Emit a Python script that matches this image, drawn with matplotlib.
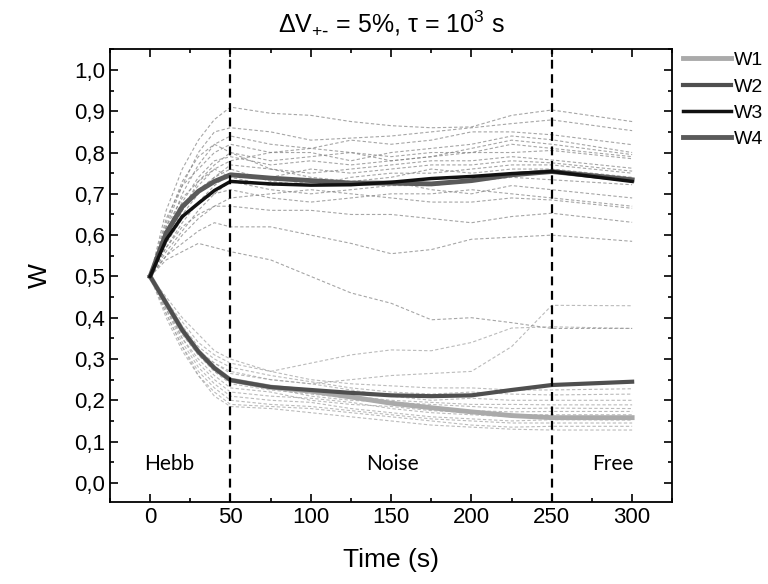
import matplotlib
matplotlib.use("Agg")
import matplotlib.pyplot as plt
from matplotlib.ticker import MultipleLocator, FuncFormatter

plt.rcParams['font.family'] = ['Liberation Sans', 'DejaVu Sans']
plt.rcParams['mathtext.default'] = 'regular'

# time grid of the sampled points (s)
t = [0, 10, 20, 30, 40, 50, 75, 100, 125, 150, 175, 200, 225, 250, 300]

# mean weights
w1 = [0.50, 0.435, 0.370, 0.318, 0.278, 0.249, 0.232, 0.222, 0.208, 0.193, 0.182, 0.172, 0.163, 0.158, 0.158]
w2 = [0.50, 0.435, 0.370, 0.318, 0.278, 0.249, 0.232, 0.225, 0.218, 0.212, 0.210, 0.212, 0.225, 0.237, 0.245]
w3 = [0.50, 0.589, 0.645, 0.677, 0.708, 0.730, 0.724, 0.721, 0.722, 0.728, 0.737, 0.742, 0.749, 0.754, 0.730]
w4 = [0.50, 0.605, 0.669, 0.706, 0.730, 0.746, 0.738, 0.732, 0.726, 0.726, 0.724, 0.732, 0.746, 0.754, 0.734]

# single trials, potentiated synapses
upper_trials = [
    [0.50, 0.66, 0.76, 0.83, 0.88, 0.91, 0.895, 0.89, 0.875, 0.865, 0.86, 0.862, 0.89, 0.903, 0.875],
    [0.50, 0.62, 0.72, 0.80, 0.85, 0.86, 0.85, 0.83, 0.835, 0.84, 0.85, 0.86, 0.87, 0.879, 0.853],
    [0.50, 0.60, 0.70, 0.77, 0.82, 0.84, 0.82, 0.81, 0.83, 0.82, 0.83, 0.85, 0.85, 0.843, 0.819],
    [0.50, 0.64, 0.72, 0.76, 0.80, 0.82, 0.80, 0.80, 0.78, 0.80, 0.81, 0.82, 0.84, 0.831, 0.80],
    [0.50, 0.58, 0.66, 0.73, 0.77, 0.80, 0.78, 0.79, 0.80, 0.79, 0.80, 0.80, 0.82, 0.81, 0.79],
    [0.50, 0.61, 0.68, 0.74, 0.78, 0.79, 0.77, 0.78, 0.77, 0.78, 0.79, 0.80, 0.80, 0.805, 0.785],
    [0.50, 0.59, 0.65, 0.70, 0.74, 0.77, 0.76, 0.75, 0.76, 0.77, 0.78, 0.78, 0.79, 0.782, 0.762],
    [0.50, 0.57, 0.63, 0.68, 0.72, 0.75, 0.74, 0.76, 0.75, 0.76, 0.77, 0.77, 0.78, 0.775, 0.755],
    [0.50, 0.60, 0.66, 0.71, 0.74, 0.76, 0.73, 0.72, 0.74, 0.75, 0.75, 0.76, 0.77, 0.77, 0.75],
    [0.50, 0.56, 0.61, 0.66, 0.70, 0.73, 0.71, 0.70, 0.71, 0.72, 0.72, 0.73, 0.74, 0.734, 0.722],
    [0.50, 0.58, 0.64, 0.68, 0.70, 0.71, 0.69, 0.68, 0.69, 0.70, 0.70, 0.71, 0.70, 0.69, 0.67],
    [0.50, 0.55, 0.60, 0.64, 0.67, 0.69, 0.70, 0.71, 0.70, 0.69, 0.68, 0.68, 0.69, 0.685, 0.665],
    [0.50, 0.57, 0.62, 0.65, 0.67, 0.67, 0.66, 0.66, 0.65, 0.65, 0.64, 0.63, 0.645, 0.653, 0.631],
    [0.50, 0.55, 0.58, 0.61, 0.63, 0.62, 0.62, 0.60, 0.58, 0.555, 0.565, 0.59, 0.595, 0.60, 0.585],
    [0.50, 0.54, 0.56, 0.58, 0.57, 0.56, 0.54, 0.50, 0.46, 0.435, 0.395, 0.40, 0.388, 0.374, 0.374],
    [0.50, 0.63, 0.73, 0.79, 0.82, 0.80, 0.76, 0.74, 0.73, 0.74, 0.76, 0.75, 0.76, 0.76, 0.74],
    [0.50, 0.59, 0.67, 0.72, 0.76, 0.78, 0.80, 0.81, 0.80, 0.78, 0.79, 0.81, 0.83, 0.82, 0.795],
    [0.50, 0.62, 0.69, 0.73, 0.76, 0.74, 0.72, 0.73, 0.72, 0.73, 0.71, 0.70, 0.72, 0.71, 0.69],
]

# single trials, depressed synapses
lower_trials = [
    [0.50, 0.44, 0.39, 0.34, 0.31, 0.29, 0.27, 0.29, 0.31, 0.322, 0.32, 0.34, 0.375, 0.378, 0.374],
    [0.50, 0.43, 0.37, 0.32, 0.29, 0.27, 0.25, 0.24, 0.25, 0.26, 0.265, 0.27, 0.33, 0.43, 0.429],
    [0.50, 0.45, 0.40, 0.36, 0.32, 0.30, 0.27, 0.25, 0.24, 0.235, 0.23, 0.23, 0.225, 0.225, 0.228],
    [0.50, 0.44, 0.38, 0.33, 0.30, 0.28, 0.26, 0.245, 0.23, 0.22, 0.215, 0.22, 0.215, 0.213, 0.215],
    [0.50, 0.43, 0.37, 0.32, 0.29, 0.265, 0.25, 0.24, 0.225, 0.21, 0.20, 0.205, 0.20, 0.20, 0.20],
    [0.50, 0.44, 0.37, 0.32, 0.28, 0.25, 0.235, 0.22, 0.21, 0.20, 0.195, 0.19, 0.19, 0.189, 0.189],
    [0.50, 0.43, 0.36, 0.31, 0.27, 0.245, 0.23, 0.21, 0.20, 0.195, 0.19, 0.185, 0.18, 0.181, 0.18],
    [0.50, 0.42, 0.36, 0.31, 0.27, 0.24, 0.225, 0.215, 0.205, 0.19, 0.18, 0.175, 0.172, 0.173, 0.173],
    [0.50, 0.43, 0.35, 0.30, 0.26, 0.23, 0.22, 0.20, 0.19, 0.185, 0.175, 0.17, 0.165, 0.165, 0.165],
    [0.50, 0.42, 0.35, 0.29, 0.25, 0.22, 0.21, 0.205, 0.195, 0.18, 0.17, 0.165, 0.16, 0.16, 0.158],
    [0.50, 0.42, 0.34, 0.28, 0.24, 0.21, 0.20, 0.195, 0.18, 0.17, 0.16, 0.155, 0.15, 0.153, 0.152],
    [0.50, 0.41, 0.33, 0.27, 0.23, 0.20, 0.19, 0.185, 0.175, 0.165, 0.155, 0.15, 0.145, 0.145, 0.145],
    [0.50, 0.41, 0.33, 0.26, 0.22, 0.19, 0.185, 0.18, 0.17, 0.16, 0.15, 0.14, 0.135, 0.137, 0.137],
    [0.50, 0.40, 0.32, 0.26, 0.21, 0.185, 0.18, 0.17, 0.16, 0.15, 0.14, 0.135, 0.13, 0.128, 0.128],
]

phase_bounds = [50, 250]
phase_names = ["Hebb", "Noise", "Free"]
phase_label_x = [12, 151, 288]

fig = plt.figure(figsize=(7.68, 5.84), dpi=100)
ax = fig.add_axes([0.1432, 0.1399, 0.7322, 0.7757])

for tr in upper_trials:
    ax.plot(t, tr, color='0.5', lw=0.8, ls=(0, (3, 2)), alpha=0.7)
for tr in lower_trials:
    ax.plot(t, tr, color='0.62', lw=0.8, ls=(0, (3, 2)), alpha=0.7)

l1, = ax.plot(t, w1, color='#aaaaaa', lw=3.5, label='W1')
l2, = ax.plot(t, w2, color='#4f4f4f', lw=3.0, label='W2')
l4, = ax.plot(t, w4, color='#5a5a5a', lw=3.5, label='W4')
l3, = ax.plot(t, w3, color='#111111', lw=2.5, label='W3')

for xb in phase_bounds:
    ax.axvline(xb, color='black', lw=1.6, ls=(0, (4, 2.5)))

for name, xp in zip(phase_names, phase_label_x):
    ax.text(xp, 0.045, name, ha='center', va='center', fontsize=15, family=['Lato', 'DejaVu Sans'])

ax.set_xlim(-25, 325)
ax.set_ylim(-0.047, 1.05)
ax.xaxis.set_major_locator(MultipleLocator(50))
ax.xaxis.set_minor_locator(MultipleLocator(25))
ax.yaxis.set_major_locator(MultipleLocator(0.1))
ax.yaxis.set_minor_locator(MultipleLocator(0.05))
ax.yaxis.set_major_formatter(FuncFormatter(lambda v, p: f'{v:.1f}'.replace('.', ',')))
ax.tick_params(which='both', direction='in', top=True, right=True, width=1.2, labelsize=16)
ax.tick_params(which='major', length=6)
ax.tick_params(which='minor', length=3)
for s in ax.spines.values():
    s.set_linewidth(1.3)

ax.set_xlabel('Time (s)', fontsize=19, labelpad=14)
ax.set_ylabel('W', fontsize=19, labelpad=16)
ax.set_title(r'ΔV$_{+\text{-}}$ = 5%, τ = 10$^3$ s', fontsize=18, pad=12)

fig.legend(handles=[l1, l2, l3, l4], loc='upper left', bbox_to_anchor=(0.879, 0.925),
           frameon=False, fontsize=14, handlelength=2.5, handletextpad=0.12, labelspacing=0.45,
           borderaxespad=0)

fig.savefig('out.png', dpi=100)
